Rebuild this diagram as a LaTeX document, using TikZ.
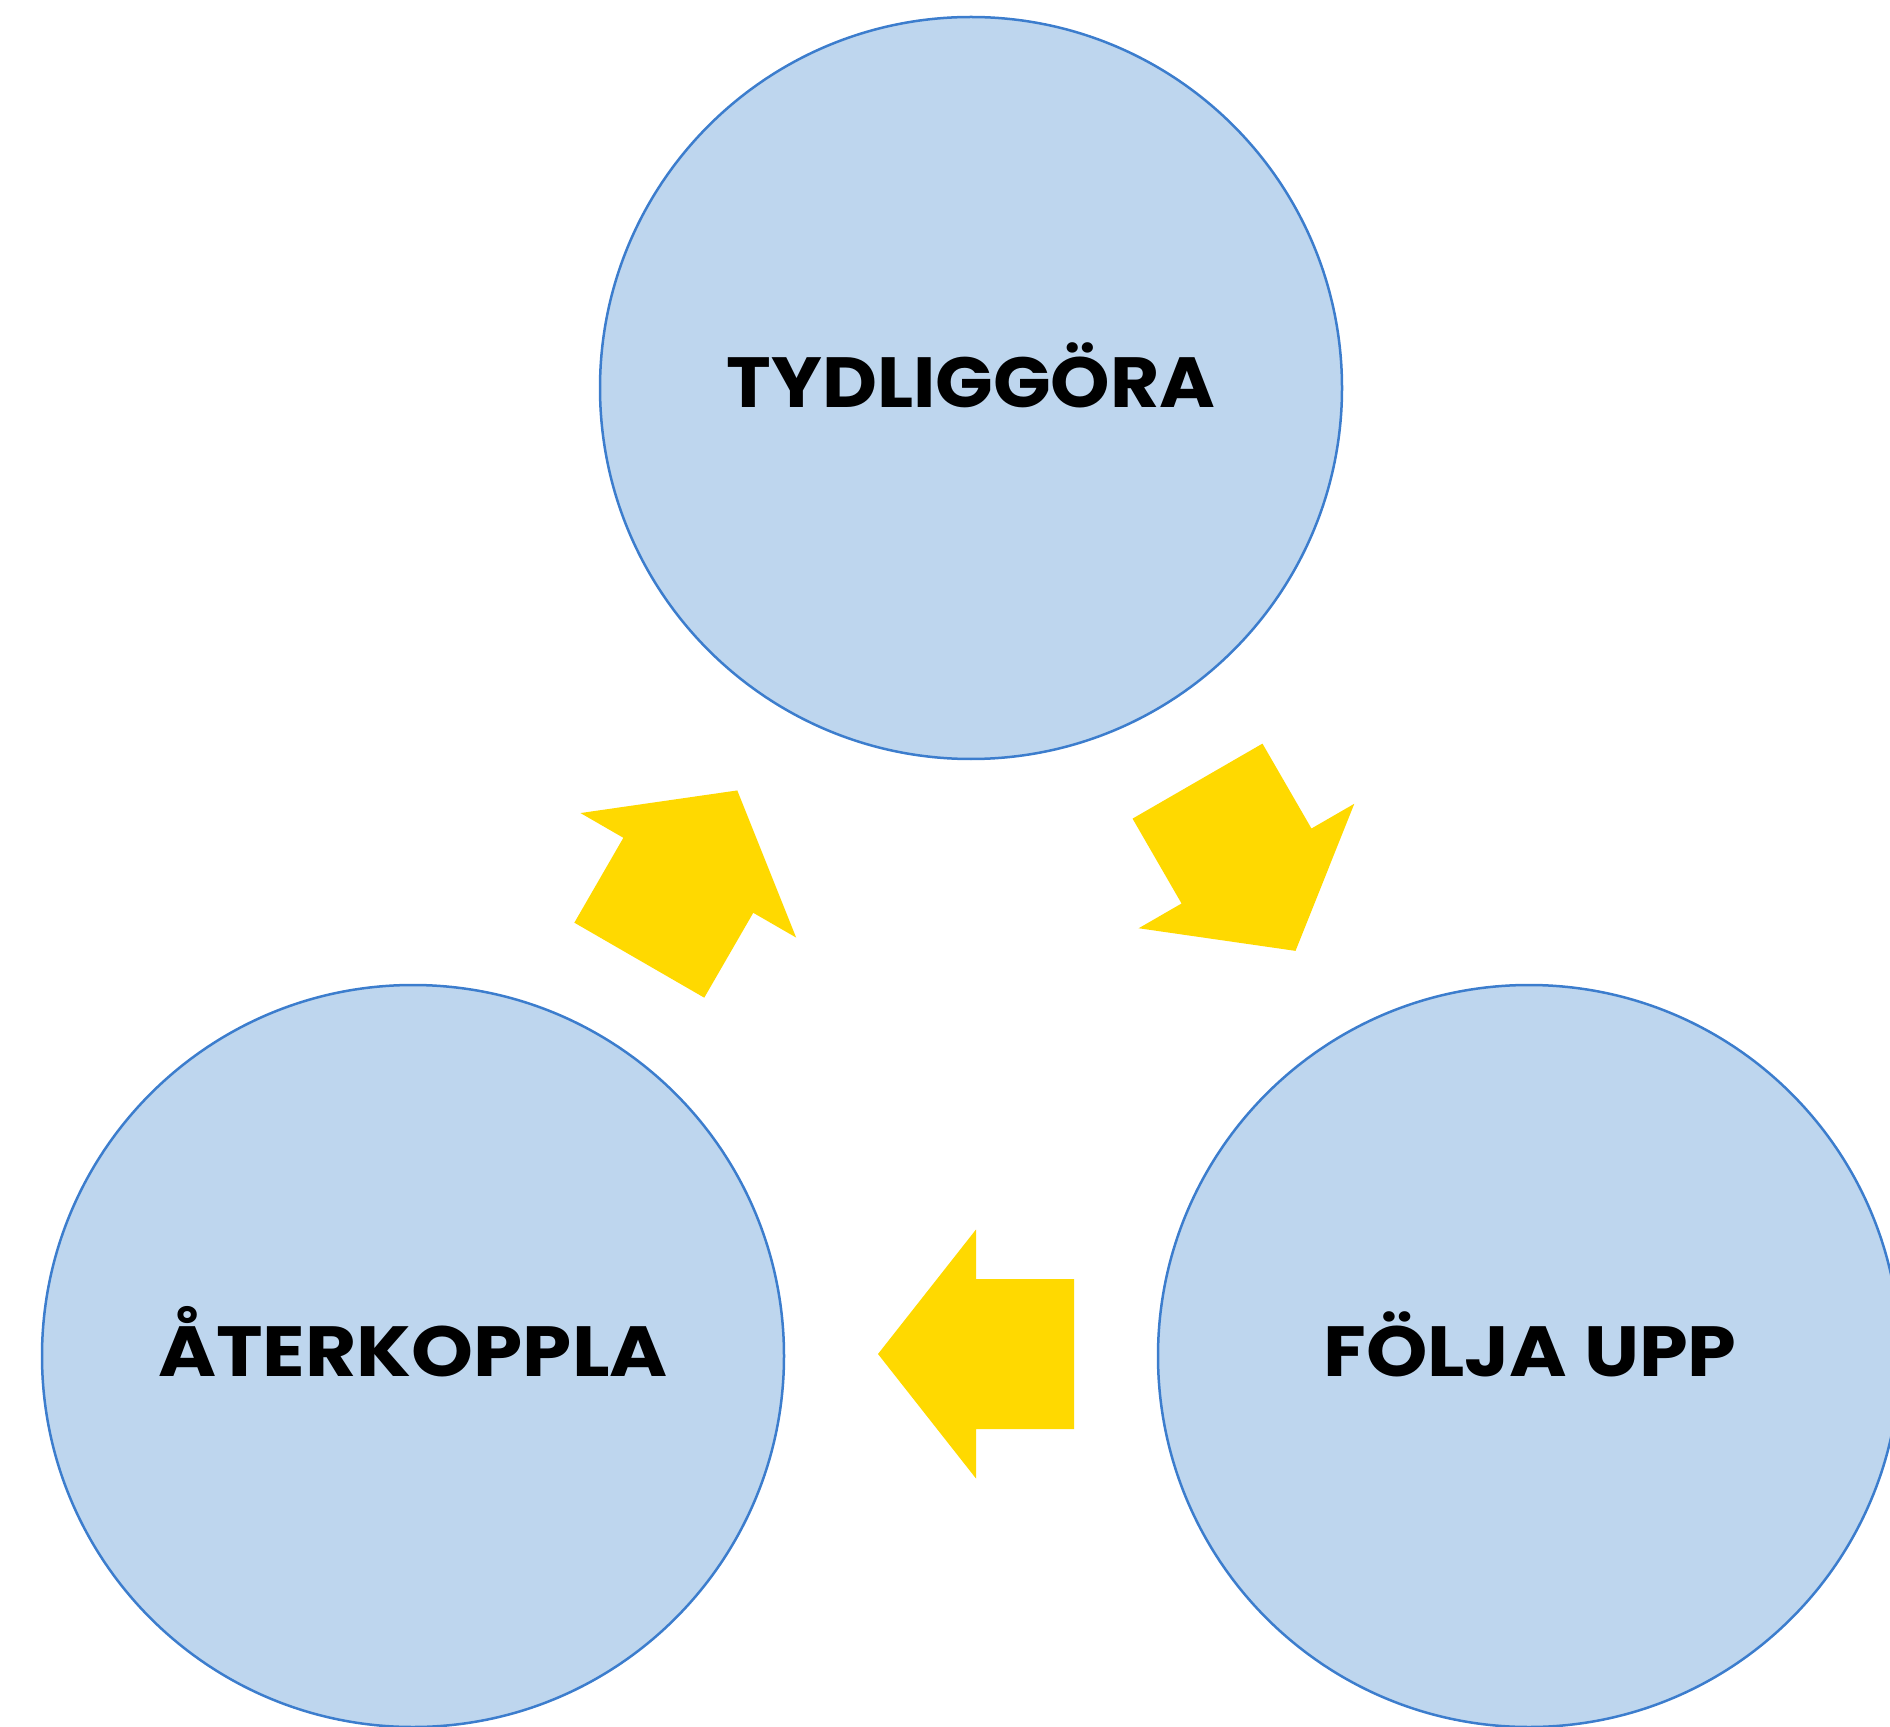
\documentclass[tikz,border=0pt]{standalone}
\usepackage{fontspec}
\setmainfont{Poppins}
\definecolor{circfill}{RGB}{190,214,238}
\definecolor{circline}{RGB}{60,125,205}
\definecolor{arrowyellow}{RGB}{255,217,0}
\tikzset{
  stage/.style={circle, draw=circline, line width=1.25pt, fill=circfill, minimum size=371pt, inner sep=0pt},
  lbl/.style={anchor=base, inner sep=0pt, font=\fontsize{35.5}{40}\selectfont\bfseries},
  blockarrow/.pic={
    \fill[arrowyellow] (98,0) -- (0,124.5) -- (0,75) -- (-98,75) -- (-98,-75) -- (0,-75) -- (0,-124.5) -- cycle;
  }
}
\begin{document}
\begin{tikzpicture}[x=0.5pt, y=-0.5pt]
\useasboundingbox (0,0) rectangle (1890,1727);
\clip (0,0) rectangle (1890,1727);
\node[stage] (top) at (971,388) {};
\node[stage] (bl) at (413,1356) {};
\node[stage] (br) at (1529,1356) {};
\node[lbl] (ttop) at (971,408) {\scalebox{1.066}[1]{TYDLIGGÖRA}};
\node[lbl] (tbl) at (413,1376) {\scalebox{1.11}[1]{ÅTERKOPPLA}};
\node[lbl] (tbr) at (1530,1376) {\scalebox{1.10}[1]{FÖLJA UPP}};
\pic[rotate=-60] at (1246.5,866) {blockarrow};
\pic[rotate=180] at (976,1354) {blockarrow};
\pic[rotate=60] at (688.3,875.3) {blockarrow};
\end{tikzpicture}
\end{document}
